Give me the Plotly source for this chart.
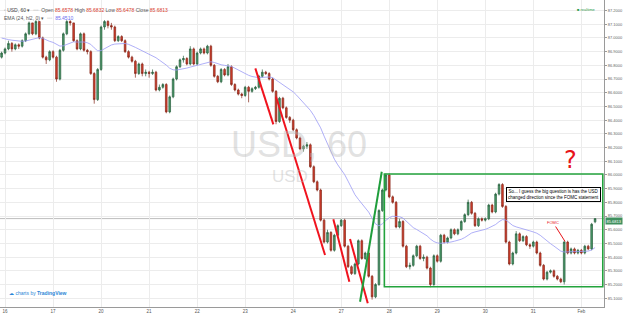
import plotly.graph_objects as go

# ---------------- data ----------------
bar_index = list(range(174))
opens = [86.86,86.89,86.92,86.96,86.92,86.95,86.94,86.98,87.03,87.11,
         87.03,87.12,87.00,86.86,86.84,86.90,86.86,86.70,86.91,87.03,
         87.12,87.11,86.98,86.92,87.03,86.91,86.90,86.74,86.55,86.77,
         87.08,87.12,87.09,87.08,86.98,87.01,86.98,86.90,86.86,86.83,
         86.74,86.81,86.74,86.75,86.74,86.75,86.62,86.64,86.66,86.46,
         86.57,86.70,86.79,86.84,86.85,86.81,86.92,86.81,86.89,86.92,
         86.89,86.94,86.80,86.72,86.68,86.77,86.73,86.79,86.66,86.62,
         86.59,86.58,86.64,86.61,86.63,86.64,86.72,86.75,86.74,86.70,
         86.61,86.39,86.56,86.49,86.42,86.40,86.33,86.27,86.19,86.21,
         86.22,86.06,85.95,85.89,85.67,85.51,85.58,85.45,85.56,85.63,
         85.67,85.48,85.33,85.28,85.35,85.52,85.39,85.43,85.26,85.11,
         85.20,85.74,85.89,86.00,85.84,85.80,85.62,85.66,85.48,85.33,
         85.34,85.41,85.48,85.39,85.40,85.32,85.20,85.41,85.37,85.56,
         85.51,85.54,85.60,85.57,85.60,85.66,85.71,85.80,85.72,85.63,
         85.68,85.67,85.68,85.78,85.73,85.86,85.93,85.77,85.51,85.35,
         85.43,85.57,85.52,85.55,85.49,85.48,85.51,85.43,85.34,85.24,
         85.29,85.30,85.26,85.24,85.22,85.51,85.43,85.46,85.43,85.45,
         85.43,85.48,85.46,85.6578]
closes = [86.89,86.92,86.96,86.92,86.95,86.94,86.98,87.03,87.11,87.03,
          87.12,87.00,86.86,86.84,86.90,86.86,86.70,86.91,87.03,87.12,
          87.11,86.98,86.92,87.03,86.91,86.90,86.74,86.55,86.77,87.08,
          87.12,87.09,87.08,86.98,87.01,86.98,86.90,86.86,86.83,86.74,
          86.81,86.74,86.75,86.74,86.75,86.62,86.64,86.66,86.46,86.57,
          86.70,86.79,86.84,86.85,86.81,86.92,86.81,86.89,86.92,86.89,
          86.94,86.80,86.72,86.68,86.77,86.73,86.79,86.66,86.62,86.59,
          86.58,86.64,86.61,86.63,86.64,86.72,86.75,86.74,86.70,86.61,
          86.39,86.56,86.49,86.42,86.40,86.33,86.27,86.19,86.21,86.22,
          86.06,85.95,85.89,85.67,85.51,85.58,85.45,85.56,85.63,85.67,
          85.48,85.33,85.28,85.35,85.52,85.39,85.43,85.26,85.11,85.20,
          85.74,85.89,86.00,85.84,85.80,85.62,85.66,85.48,85.33,85.34,
          85.41,85.48,85.39,85.40,85.32,85.20,85.41,85.37,85.56,85.51,
          85.54,85.60,85.57,85.60,85.66,85.71,85.80,85.72,85.63,85.68,
          85.67,85.68,85.78,85.73,85.86,85.93,85.77,85.51,85.35,85.43,
          85.57,85.52,85.55,85.49,85.48,85.51,85.43,85.34,85.24,85.29,
          85.30,85.26,85.24,85.22,85.51,85.43,85.46,85.43,85.45,85.43,
          85.48,85.46,85.64,85.6813]
highs = [86.90,86.93,86.98,86.97,86.96,86.96,86.99,87.04,87.12,87.11,
         87.13,87.12,87.01,86.87,86.91,86.91,86.87,86.92,87.04,87.13,
         87.13,87.11,86.99,87.04,87.04,86.92,86.91,86.75,86.78,87.09,
         87.13,87.13,87.11,87.09,87.02,87.02,86.99,86.91,86.87,86.84,
         86.82,86.82,86.77,86.76,86.77,86.76,86.66,86.67,86.67,86.58,
         86.71,86.80,86.85,86.87,86.86,86.94,86.93,86.90,86.93,86.93,
         86.95,86.95,86.81,86.73,86.78,86.78,86.81,86.80,86.67,86.63,
         86.60,86.65,86.65,86.64,86.65,86.73,86.77,86.76,86.75,86.71,
         86.62,86.57,86.57,86.50,86.43,86.41,86.34,86.28,86.22,86.24,
         86.23,86.07,85.96,85.90,85.68,85.60,85.59,85.57,85.64,85.68,
         85.68,85.49,85.34,85.36,85.53,85.53,85.44,85.44,85.27,85.21,
         85.75,85.90,86.01,86.01,85.85,85.81,85.68,85.67,85.49,85.36,
         85.42,85.49,85.49,85.42,85.41,85.33,85.42,85.42,85.57,85.57,
         85.55,85.61,85.61,85.61,85.67,85.72,85.82,85.81,85.73,85.69,
         85.69,85.69,85.79,85.79,85.87,85.94,85.94,85.78,85.52,85.44,
         85.59,85.58,85.56,85.56,85.50,85.52,85.52,85.44,85.35,85.30,
         85.31,85.31,85.27,85.25,85.52,85.52,85.47,85.47,85.46,85.46,
         85.49,85.49,85.65,85.6832]
lows = [86.85,86.88,86.91,86.90,86.91,86.92,86.93,86.97,87.02,87.02,
        87.02,86.99,86.85,86.81,86.83,86.85,86.68,86.69,86.90,87.02,
        87.09,86.97,86.91,86.91,86.90,86.88,86.73,86.52,86.54,86.76,
        87.06,87.07,87.06,86.97,86.97,86.97,86.89,86.85,86.82,86.71,
        86.73,86.72,86.72,86.71,86.73,86.61,86.61,86.63,86.45,86.45,
        86.56,86.69,86.78,86.82,86.80,86.80,86.80,86.80,86.88,86.88,
        86.88,86.79,86.71,86.67,86.67,86.72,86.72,86.65,86.61,86.58,
        86.56,86.57,86.53,86.60,86.62,86.63,86.71,86.73,86.69,86.60,
        86.37,86.38,86.48,86.41,86.38,86.32,86.26,86.18,86.17,86.19,
        86.05,85.94,85.88,85.66,85.50,85.50,85.44,85.44,85.55,85.62,
        85.47,85.32,85.27,85.27,85.34,85.38,85.38,85.25,85.09,85.10,
        85.19,85.73,85.88,85.83,85.79,85.61,85.61,85.47,85.32,85.31,
        85.33,85.40,85.38,85.37,85.31,85.18,85.19,85.36,85.36,85.50,
        85.50,85.53,85.56,85.56,85.59,85.65,85.70,85.71,85.62,85.62,
        85.66,85.66,85.67,85.72,85.72,85.85,85.76,85.50,85.34,85.34,
        85.42,85.51,85.51,85.48,85.46,85.47,85.42,85.33,85.23,85.23,
        85.28,85.25,85.23,85.21,85.20,85.42,85.42,85.42,85.42,85.42,
        85.42,85.45,85.45,85.6478]

ema_length = 24
ema_seed = 87.01          # EMA level at the left edge of the picture

day_ticks = [1, 15, 29, 43, 57, 71, 85, 99, 113, 127, 141, 155, 169]
day_labels = ["16", "17", "20", "21", "22", "23", "24", "27", "28", "29", "30", "31", "Feb"]
price_ticks = [round(85.1 + 0.1 * k, 1) for k in range(22)]
price_labels = ["%.4f" % v for v in price_ticks]

last_price = closes[-1]
ema_label_value = "85.4510"

# ---------------- EMA of hl2 ----------------
alpha = 2.0 / (ema_length + 1)
ema = []
prev = ema_seed
for h, l in zip(highs, lows):
    prev = alpha * (h + l) / 2 + (1 - alpha) * prev
    ema.append(prev)

FONT = "Liberation Sans, Arial, sans-serif"
UP_FILL, UP_LINE = "#4a9a69", "#285f3e"
DN_FILL, DN_LINE = "#d63d2c", "#842619"

fig = go.Figure()
fig.add_trace(go.Candlestick(
    x=bar_index, open=opens, high=highs, low=lows, close=closes,
    increasing=dict(fillcolor=UP_FILL, line=dict(color=UP_LINE, width=0.7)),
    decreasing=dict(fillcolor=DN_FILL, line=dict(color=DN_LINE, width=0.7)),
    hoverinfo="skip", showlegend=False))
fig.add_trace(go.Scatter(x=bar_index, y=ema, mode="lines",
                         line=dict(color="#9a9af5", width=0.8),
                         hoverinfo="skip", showlegend=False))

# pixel -> data helpers for drawn annotations (read positions)
def dx(px):
    return (px - 1.6) / 3.43

def dy(py):
    return 85.7 - (py - 216) / 137.0

shapes = []
# last price line
shapes.append(dict(type="line", xref="paper", x0=0, x1=1, yref="y", y0=last_price, y1=last_price,
                   line=dict(color="#bdbdbd", width=1), layer="below"))
red_lines = [((255.3, 68.3), (273.3, 124.3)),
             ((276.0, 96.7), (325.0, 255.0)),
             ((333.3, 219.3), (349.3, 281.7)),
             ((350.0, 239.0), (367.7, 303.3))]
for (a, b) in red_lines:
    shapes.append(dict(type="line", x0=dx(a[0]), y0=dy(a[1]), x1=dx(b[0]), y1=dy(b[1]),
                       line=dict(color="#f0131e", width=2)))
shapes.append(dict(type="line", x0=dx(360), y0=dy(301.7), x1=dx(381.7), y1=dy(171.7),
                   line=dict(color="#1f9e3c", width=2)))
shapes.append(dict(type="rect", x0=dx(384.3), y0=dy(174), x1=dx(602.7), y1=dy(286.7),
                   line=dict(color="#23a33d", width=1.6)))

annotations = [
    # watermark
    dict(xref="paper", yref="paper", x=299 / 604, y=(307 - 144) / 307, text="USD, 60",
         showarrow=False, font=dict(family=FONT, size=36, color="rgba(190,190,190,0.45)")),
    dict(xref="paper", yref="paper", x=290 / 604, y=(307 - 176) / 307, text="USD",
         showarrow=False, font=dict(family=FONT, size=17, color="rgba(190,190,190,0.45)")),
    # header
    dict(xref="paper", yref="paper", x=0.003, y=(307 - 5) / 307, xanchor="left",
         text="<span style='color:#999'>▫</span> USD, 60 ▾  <span style='color:#bbb'>▫▫▫</span>  "
              "<span style='color:#555'>Open</span> <span style='color:#d9412f'>85.6578</span> "
              "<span style='color:#555'>High</span> <span style='color:#d9412f'>85.6832</span> "
              "<span style='color:#555'>Low</span> <span style='color:#d9412f'>85.6478</span> "
              "<span style='color:#555'>Close</span> <span style='color:#d9412f'>85.6813</span>",
         showarrow=False, font=dict(family=FONT, size=5, color="#444")),
    dict(xref="paper", yref="paper", x=0.003, y=(307 - 13) / 307, xanchor="left",
         text="EMA (24, hl2, 0) ▾  <span style='color:#bbb'>▫▫▫</span>  "
              "<span style='color:#6c6cf0'>" + ema_label_value + "</span>",
         showarrow=False, font=dict(family=FONT, size=5, color="#555")),
    dict(xref="paper", yref="paper", x=598 / 604, y=(307 - 5) / 307, xanchor="right",
         text="■ realtime", showarrow=False, font=dict(family=FONT, size=4, color="#2f9e4f")),
    # logo
    dict(xref="paper", yref="paper", x=7 / 604, y=(307 - 298) / 307, xanchor="left",
         text="☁ charts by <b>TradingView</b>", showarrow=False,
         font=dict(family=FONT, size=5, color="#2a86d6")),
    # last price tag
    dict(xref="paper", yref="y", x=1.0, y=last_price, xanchor="left", yanchor="top", xshift=1, yshift=2,
         text="%.4f" % last_price, showarrow=False, bgcolor="#3f8f5e", borderpad=0.5,
         font=dict(family=FONT, size=4, color="white")),
    # comment box
    dict(x=dx(553), y=dy(194.5),
         text="So... I guess the big question is has the USD<br>changed direction since the FOMC statement",
         showarrow=False, bgcolor="white", bordercolor="black", borderwidth=1, borderpad=1,
         font=dict(family=FONT, size=4.5, color="black")),
    # FOMC arrow
    dict(x=dx(565), y=dy(241.5), ax=-12, ay=-19, text="FOMC", showarrow=True,
         arrowhead=0, arrowwidth=1, arrowcolor="#e8141a",
         font=dict(family=FONT, size=4, color="#e8141a")),
    dict(x=dx(570), y=dy(160), text="?", showarrow=False,
         font=dict(family="DejaVu Sans, sans-serif", size=24, color="#e8141a")),
]

fig.update_layout(
    width=625, height=313,
    margin=dict(l=0, r=21, t=0, b=6),
    paper_bgcolor="white", plot_bgcolor="white",
    shapes=shapes, annotations=annotations,
    xaxis=dict(range=[-0.466, 175.6], rangeslider=dict(visible=False),
               tickmode="array", tickvals=day_ticks, ticktext=day_labels,
               showgrid=True, gridcolor="#ececec", gridwidth=1,
               showline=True, linecolor="#9a9a9a", linewidth=1,
               ticks="", tickfont=dict(family=FONT, size=4.5, color="#555"),
               zeroline=False, fixedrange=True),
    yaxis=dict(range=[85.036, 87.277], side="right",
               tickmode="array", tickvals=price_ticks, ticktext=price_labels,
               showgrid=True, gridcolor="#ececec", gridwidth=1,
               showline=True, linecolor="#9a9a9a", linewidth=1,
               ticks="outside", ticklen=2, tickcolor="#9a9a9a",
               tickfont=dict(family=FONT, size=4, color="#666"),
               zeroline=False, fixedrange=True),
)

fig.write_html("out.html")
